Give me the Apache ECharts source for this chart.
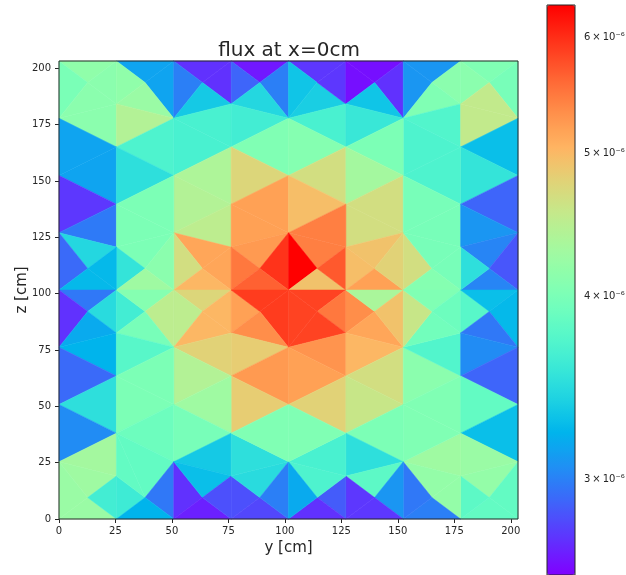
<!DOCTYPE html>
<html><head><meta charset="utf-8">
<style>html,body{margin:0;padding:0;background:#fff}#c{width:626px;height:575px}</style>
<script src="https://cdn.jsdelivr.net/npm/echarts@6/dist/echarts.min.js"></script>
</head><body><div id="c"></div>
<script>
// Mesh pitch: vertex indices are multiples of these (cm)
const yPitch = 12.7, zPitch = 3.175;
const axisMax = 203.2;
const axisTicks = [0,25,50,75,100,125,150,175,200];
const fluxMin = 2.585e-6, fluxMax = 6.31e-6;
const barTicks = [3e-6,4e-6,5e-6,6e-6];
const barLabels = ['3\u2009×\u200910⁻⁶','4\u2009×\u200910⁻⁶','5\u2009×\u200910⁻⁶','6\u2009×\u200910⁻⁶'];

// Rows: y1,z1, y2,z2, y3,z3 (vertex indices), flux (1e-6)
const fluxTopLeft = [
[2,64,4,64,3,61,3.15],[3,61,4,64,4,56,3.15],[0,64,2,64,1,61,4.16],[0,64,1,61,0,56,4.00],
[1,61,2,64,2,58,4.12],[1,61,2,58,0,56,4.12],[0,56,2,58,2,52,4.12],[2,58,2,64,3,61,4.16],
[2,58,3,61,4,56,4.23],[2,58,4,56,2,52,4.42],
[4,64,6,64,5,61,2.73],[5,61,6,64,6,58,2.73],[4,64,5,61,4,56,3.00],[5,61,6,58,4,56,3.35],
[6,64,8,64,7,61,2.655],[6,64,7,61,6,58,2.90],[7,61,8,64,8,56,3.00],[6,58,7,61,8,56,3.44],
[0,56,2,52,0,48,3.15],[0,48,2,52,2,44,3.15],[0,48,2,44,0,40,2.75],[0,40,2,44,2,38,2.98],
[2,52,4,56,4,48,3.70],[2,52,4,48,2,44,3.50],[4,56,6,58,6,52,3.67],[4,56,6,52,4,48,3.67],
[6,58,8,56,6,52,3.63],[6,52,8,56,8,48,4.04],[4,48,6,52,6,44,4.38],[4,48,6,44,4,40,4.42],
[6,52,8,48,6,44,4.75],[6,44,8,48,8,40,5.20],[2,44,4,48,4,40,4.01],[2,44,4,40,2,38,4.01],
[4,40,6,44,6,38,4.50],[4,40,6,38,5,35,5.16],[5,35,6,38,6,32,5.16],[4,40,5,35,4,32,4.67],
[4,32,5,35,6,32,5.02],[6,44,8,40,6,38,5.20],[6,38,8,40,7,35,5.25],[6,38,7,35,6,32,5.49],
[7,35,8,40,8,32,5.96],[6,32,7,35,8,32,5.65],[2,38,3,35,4,40,4.01],[2,38,2,32,3,35,3.54],
[3,35,4,40,4,32,4.12],[2,32,3,35,4,32,4.27],[0,40,2,38,1,35,3.44],[0,40,1,35,0,32,2.92],
[1,35,2,38,2,32,3.26],[0,32,1,35,2,32,3.26]
];
const fluxTopRight = [
[8,64,10,64,9,61,2.75],[8,64,9,61,8,56,3.32],[9,61,10,58,8,56,3.38],[9,61,10,64,10,58,2.75],
[10,64,12,64,11,61,2.63],[10,64,11,61,10,58,2.63],[11,61,12,64,12,56,2.73],[10,58,11,61,12,56,3.32],
[12,64,14,64,13,61,3.09],[12,64,13,61,12,56,3.09],[13,61,14,64,14,58,4.12],[12,56,13,61,14,58,4.04],
[12,56,14,58,14,52,3.73],[14,64,16,64,15,61,4.04],[14,64,15,61,14,58,4.12],[15,61,16,64,16,56,3.98],
[14,58,15,61,16,56,4.54],[14,58,16,56,14,52,4.54],[14,52,16,56,16,48,3.29],[14,52,16,48,14,44,3.54],
[12,56,14,52,12,48,3.70],[12,48,14,52,14,44,3.70],[8,56,10,58,10,52,3.67],[10,58,12,56,10,52,3.57],
[8,56,10,52,8,48,4.08],[10,52,12,56,12,48,4.01],[8,48,10,52,10,44,4.67],[10,52,12,48,10,44,4.31],
[10,44,12,48,12,40,4.67],[10,44,12,40,10,38,4.67],[12,48,14,44,12,40,3.98],[14,44,12,40,14,38,3.98],
[14,44,16,48,16,40,2.90],[14,44,16,40,14,38,3.09],[14,38,16,40,15,35,3.02],[15,35,16,40,16,32,2.85],
[14,32,15,35,16,32,3.02],[14,38,15,35,14,32,3.50],[8,48,10,44,8,40,4.97],[8,40,10,44,10,38,5.44],
[8,40,10,38,9,35,5.44],[8,40,9,35,8,32,6.31],[8,32,9,35,10,32,4.93],[9,35,10,38,10,32,5.70],
[10,38,12,40,11,35,4.93],[10,38,11,35,10,32,4.97],[10,32,11,35,12,32,5.20],[11,35,12,40,12,32,4.79],
[12,40,13,35,12,32,4.67],[12,40,14,38,13,35,3.98],[13,35,14,38,14,32,3.98],[12,32,13,35,14,32,4.08]
];
const fluxBottomLeft = [
[0,32,2,32,1,29,2.97],[0,32,1,29,0,24,2.73],[1,29,2,32,2,26,3.47],[1,29,2,26,0,24,3.18],
[0,24,2,26,2,20,3.23],[0,24,2,20,0,16,2.92],[0,16,2,20,2,12,3.50],[0,16,2,12,0,8,3.05],
[0,8,2,12,2,6,4.31],[0,8,2,6,1,3,4.27],[0,8,1,3,0,0,4.23],[0,0,1,3,2,0,4.23],
[1,3,2,6,2,0,3.63],[2,0,2,6,3,3,3.60],[2,32,3,29,2,26,3.63],[2,32,4,32,3,29,4.08],
[3,29,4,32,4,24,4.50],[4,32,6,32,5,29,4.75],[4,32,5,29,4,24,4.50],[4,24,5,29,6,26,5.02],
[5,29,6,32,6,26,5.02],[6,32,7,29,6,26,5.20],[6,32,8,32,7,29,5.90],[7,29,8,32,8,24,5.90],
[6,26,7,29,8,24,5.34],[6,26,8,24,6,20,4.84],[4,24,6,26,6,20,4.79],[6,20,8,24,8,16,5.25],
[6,20,8,16,6,12,4.84],[4,24,6,20,4,16,4.42],[4,16,6,20,6,12,4.27],[2,26,3,29,4,24,3.98],
[2,26,4,24,2,20,3.77],[2,20,4,24,4,16,4.01],[2,20,4,16,2,12,4.01],[2,12,4,16,4,8,3.91],
[2,12,4,8,3,3,3.84],[2,12,3,3,2,6,3.84],[4,8,4,16,6,12,3.98],[3,3,4,8,4,0,2.97],
[2,0,3,3,4,0,3.23],[4,0,4,8,5,3,2.73],[4,0,5,3,6,0,2.68],[4,8,6,12,6,6,3.35],
[4,8,6,6,5,3,3.29],[5,3,6,6,6,0,2.83],[6,0,6,6,7,3,2.83],[6,0,7,3,8,0,2.80],
[6,6,8,8,7,3,3.47],[6,6,6,12,8,8,3.50],[6,12,8,16,8,8,4.04],[7,3,8,8,8,0,3.00]
];
const fluxBottomRight = [
[8,32,10,32,9,29,5.85],[8,32,9,29,8,24,5.85],[9,29,10,32,10,26,5.49],[8,24,9,29,10,26,5.85],
[10,32,11,29,10,26,5.34],[10,32,12,32,11,29,4.35],[10,26,11,29,12,24,5.16],[11,29,12,32,12,24,4.93],
[8,24,10,26,10,20,5.29],[10,26,12,24,10,20,5.02],[8,24,10,20,8,16,5.20],[8,16,10,20,10,12,4.79],
[10,20,12,24,12,16,4.67],[10,20,12,16,10,12,4.58],[12,24,14,20,12,16,4.12],[12,24,14,26,14,20,3.73],
[12,24,13,29,14,26,3.94],[12,32,13,29,12,24,4.58],[12,32,14,32,13,29,4.04],[13,29,14,32,14,26,3.91],
[14,32,15,29,14,26,3.77],[14,32,16,32,15,29,3.29],[15,29,16,32,16,24,3.26],[14,26,15,29,16,24,2.97],
[14,26,16,24,14,20,3.05],[14,20,16,24,16,16,2.90],[12,16,14,20,14,12,4.04],[14,20,16,16,14,12,3.84],
[14,12,16,16,16,8,3.29],[14,12,16,8,14,6,4.23],[14,6,16,8,15,3,4.19],[15,3,16,8,16,0,3.84],
[14,0,15,3,16,0,3.84],[14,0,14,6,15,3,3.80],[12,8,14,12,14,6,4.27],[12,8,13,3,14,6,4.19],
[13,3,14,0,14,6,4.19],[12,16,14,12,12,8,4.04],[12,0,13,3,14,0,3.00],[12,0,12,8,13,3,2.97],
[10,12,12,16,12,8,4.01],[10,12,12,8,10,6,3.50],[10,6,12,8,11,3,3.80],[11,3,12,8,12,0,3.09],
[10,0,11,3,12,0,2.75],[10,0,10,6,11,3,2.75],[9,3,10,6,10,0,2.87],[8,0,9,3,10,0,2.73],
[8,8,10,12,10,6,3.67],[8,8,10,6,9,3,3.70],[8,8,9,3,8,0,3.18],[8,16,10,12,8,8,4.04]
];

function rainbow(t){ // matplotlib "rainbow" colormap stops
  const c=v=>Math.round(255*Math.max(0,Math.min(1,v)));
  return `rgb(${c(Math.abs(2*t-0.5))},${c(Math.sin(Math.PI*t))},${c(Math.cos(Math.PI*t/2))})`;
}
const stops=[];for(let i=0;i<=32;i++)stops.push(rainbow(i/32));

const triRows=[...fluxTopLeft,...fluxTopRight,...fluxBottomLeft,...fluxBottomRight]
  .map(r=>[Math.log10(r[6]*1e-6),r[0]*yPitch,r[1]*zPitch,r[2]*yPitch,r[3]*zPitch,r[4]*yPitch,r[5]*zPitch]);

const ink='#262626', font='"DejaVu Sans"';
const logMin=Math.log10(fluxMin), logMax=Math.log10(fluxMax);
const mainAxis=(name,gap,margin,extra)=>Object.assign({
  type:'value',min:0,max:axisMax,name,nameLocation:'middle',nameGap:gap,
  nameTextStyle:{fontFamily:font,fontSize:15,color:ink},
  axisLine:{show:false},splitLine:{show:false},
  axisTick:{show:true,length:4,customValues:axisTicks,lineStyle:{color:ink,width:1}},
  axisLabel:{show:true,customValues:axisTicks,fontFamily:font,fontSize:10,color:ink,margin}
},extra);
const frame=(xi,yi,x0,x1,y0,y1)=>({
  type:'custom',xAxisIndex:xi,yAxisIndex:yi,z:20,silent:true,data:[[0]],encode:{x:[],y:[]},
  renderItem:(p,api)=>{const a=api.coord([x0,y1]),b=api.coord([x1,y0]);
    return {type:'rect',shape:{x:a[0],y:a[1],width:b[0]-a[0],height:b[1]-a[1]},
      style:{fill:'none',stroke:ink,lineWidth:1}};}
});

const chart=echarts.init(document.getElementById('c'),null,{renderer:'canvas'});
chart.setOption({
  animation:false,backgroundColor:'#fff',
  title:{text:'flux at x=0cm',left:284,top:36,textAlign:'center',
    textStyle:{fontFamily:font,fontSize:20,fontWeight:'normal',color:ink}},
  grid:[{left:59,top:61,width:459,height:458,outerBoundsMode:'none'},
        {left:547,top:5,width:28,height:570,outerBoundsMode:'none'}],
  xAxis:[mainAxis('y [cm]',22,7,{gridIndex:0}),
    {gridIndex:1,type:'value',min:0,max:1,show:false}],
  yAxis:[mainAxis('z [cm]',29,8,{gridIndex:0,nameMoveOverlap:false}),
    {gridIndex:1,type:'value',min:logMin,max:logMax,position:'right',
     axisLine:{show:false},splitLine:{show:false},
     axisTick:{show:true,length:4,customValues:barTicks.map(Math.log10),lineStyle:{color:ink}},
     axisLabel:{show:true,customValues:barTicks.map(Math.log10),fontFamily:font,fontSize:10,color:ink,margin:9,
       formatter:v=>{const i=barTicks.findIndex(t=>Math.abs(Math.log10(t)-v)<1e-6);return i<0?'':barLabels[i];}}}],
  visualMap:{type:'continuous',seriesIndex:0,dimension:0,min:logMin,max:logMax,
    inRange:{color:stops},calculable:false,hoverLink:false,showLabel:false,text:null,
    left:547,top:5,padding:0,itemWidth:28,itemHeight:570,z:4},
  series:[
    {type:'custom',xAxisIndex:0,yAxisIndex:0,data:triRows,encode:{x:[1,3,5],y:[2,4,6]},silent:true,
     renderItem:(p,api)=>{
       const pts=[[1,2],[3,4],[5,6]].map(d=>api.coord([api.value(d[0]),api.value(d[1])]));
       const col=api.visual('color');
       return {type:'polygon',shape:{points:pts},style:{fill:col,stroke:col,lineWidth:0.5}};
     }},
    frame(0,0,0,axisMax,0,axisMax),
    frame(1,1,0,1,logMin,logMax)
  ]
});
</script></body></html>
